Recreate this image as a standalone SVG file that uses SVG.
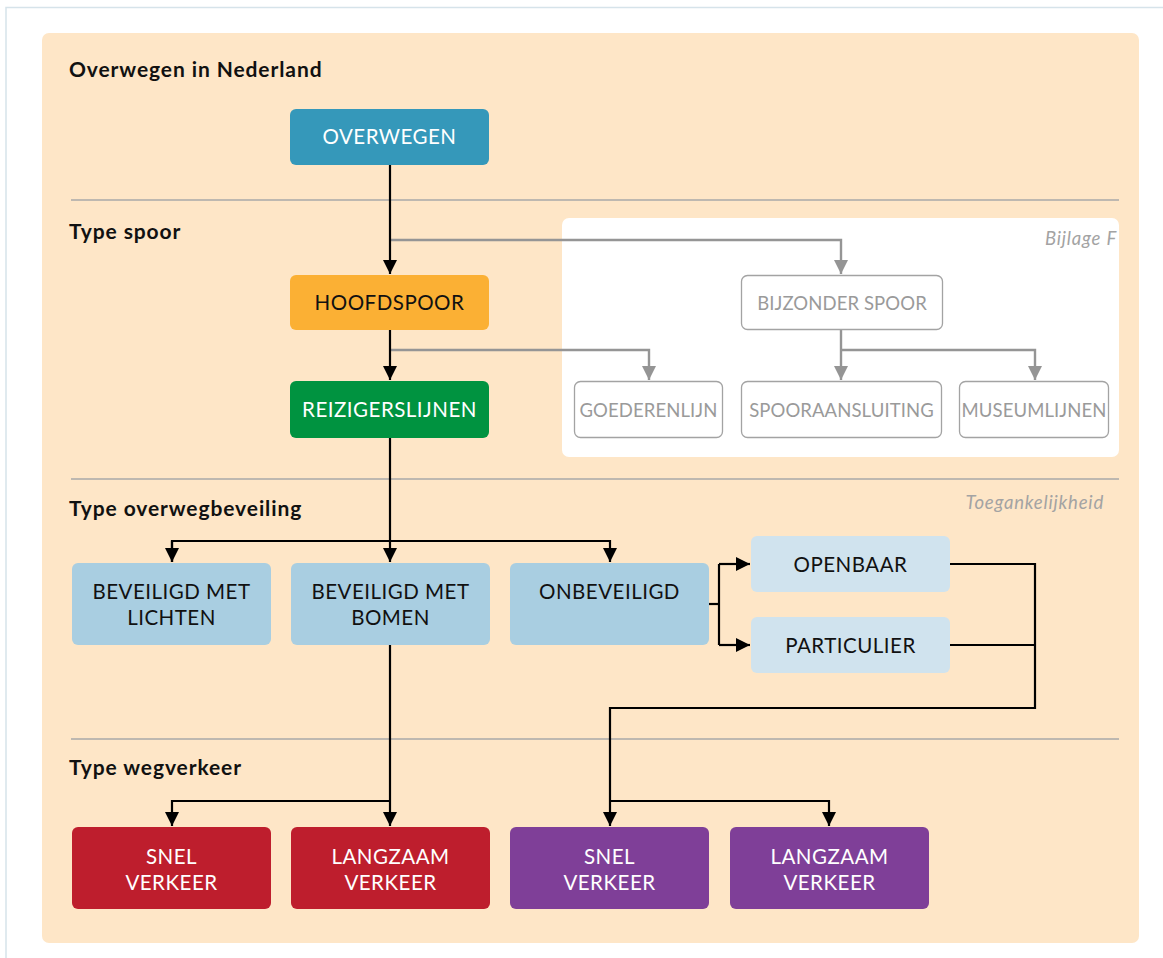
<svg xmlns="http://www.w3.org/2000/svg" width="1163" height="958" viewBox="0 0 1163 958">
<defs>
<style>
.hdr{font-family:Lato,"Noto Sans",sans-serif;font-weight:bold;font-size:21px;letter-spacing:0.9px;fill:#111}
.note{font-family:Lato,"Noto Sans",sans-serif;font-style:italic;font-size:18.5px;letter-spacing:0.8px;fill:#a3a3a3}
.t{font-family:Lato,"Noto Sans",sans-serif;font-size:20.5px;letter-spacing:0.5px;text-anchor:middle}
.w{fill:#fff}
.k{fill:#111}
.g{fill:#9a9a9a;font-size:18.5px;letter-spacing:0.1px}
.sep{stroke:#a8a8a8;stroke-width:1.5;fill:none}
.blk{stroke:#000;stroke-width:2.2;fill:none}
.gry{stroke:#959595;stroke-width:2.4;fill:none}
.gbox{fill:#fff;stroke:#a3a3a3;stroke-width:1.3}
</style>
<marker id="ab" markerUnits="userSpaceOnUse" markerWidth="16" markerHeight="14" refX="14" refY="7" orient="auto">
<path d="M0,0 L14,7 L0,14 Z" fill="#000"/>
</marker>
<marker id="ag" markerUnits="userSpaceOnUse" markerWidth="16" markerHeight="14" refX="14" refY="7" orient="auto">
<path d="M0,0 L14,7 L0,14 Z" fill="#959595"/>
</marker>
</defs>
<rect x="0" y="0" width="1163" height="958" fill="#fff"/>
<rect x="6" y="7.5" width="1170" height="960" fill="#fff" stroke="#d6e3ea" stroke-width="1.5"/>
<rect x="42" y="33" width="1097" height="910" rx="7" fill="#fee6c7"/>
<rect x="562" y="218" width="557" height="239" rx="7" fill="#fff"/>

<g id="separators">
<line class="sep" x1="71" y1="200" x2="1119" y2="200"/>
<line class="sep" x1="71" y1="479" x2="1119" y2="479"/>
<line class="sep" x1="71" y1="739" x2="1119" y2="739"/>
</g>

<g id="labels">
<text class="hdr" x="69" y="77">Overwegen in Nederland</text>
<text class="hdr" x="69" y="239">Type spoor</text>
<text class="hdr" x="69" y="516">Type overwegbeveiling</text>
<text class="hdr" x="69" y="775">Type wegverkeer</text>
<text class="note" x="1117" y="245" text-anchor="end">Bijlage F</text>
<text class="note" x="1104" y="509" text-anchor="end">Toegankelijkheid</text>
</g>

<g id="connectors">
<path class="gry" d="M390,240 H841 V274" marker-end="url(#ag)"/>
<path class="gry" d="M390,350 H649 V380" marker-end="url(#ag)"/>
<path class="gry" d="M841,330 V380" marker-end="url(#ag)"/>
<path class="gry" d="M841,350 H1035 V380" marker-end="url(#ag)"/>
<path class="blk" d="M390,165 V274" marker-end="url(#ab)"/>
<path class="blk" d="M390,330 V380" marker-end="url(#ab)"/>
<path class="blk" d="M390,438 V562" marker-end="url(#ab)"/>
<path class="blk" d="M172,562 V541 H610 V562" marker-end="url(#ab)"/>
<path class="blk" d="M172,541 V562" marker-end="url(#ab)"/>
<path class="blk" d="M709,604 H719"/>
<path class="blk" d="M719,564 V645"/>
<path class="blk" d="M719,564 H750" marker-end="url(#ab)"/>
<path class="blk" d="M719,645 H750" marker-end="url(#ab)"/>
<path class="blk" d="M950,564 H1035 V708 H610 V826" marker-end="url(#ab)"/>
<path class="blk" d="M950,645 H1035"/>
<path class="blk" d="M610,801 H829 V826" marker-end="url(#ab)"/>
<path class="blk" d="M390,645 V826" marker-end="url(#ab)"/>
<path class="blk" d="M390,801 H172 V826" marker-end="url(#ab)"/>
</g>

<g id="overwegen"><rect x="290" y="109" width="199" height="56" rx="6" fill="#3598ba"/><text class="t w" x="389.5" y="144">OVERWEGEN</text></g>
<g id="hoofdspoor"><rect x="290" y="275" width="199" height="55" rx="6" fill="#fbb034"/><text class="t k" x="389.5" y="310">HOOFDSPOOR</text></g>
<g id="reizigerslijnen"><rect x="290" y="381" width="199" height="57" rx="6" fill="#009340"/><text class="t w" x="389.5" y="417">REIZIGERSLIJNEN</text></g>
<g id="bijzonder"><rect class="gbox" x="741.5" y="275.5" width="201" height="54" rx="6"/><text class="t g" x="842" y="310">BIJZONDER SPOOR</text></g>
<g id="goederenlijn"><rect class="gbox" x="574.5" y="381.5" width="148" height="56" rx="6"/><text class="t g" x="648.5" y="417">GOEDERENLIJN</text></g>
<g id="spooraansluiting"><rect class="gbox" x="741.5" y="381.5" width="200" height="56" rx="6"/><text class="t g" x="841.5" y="417">SPOORAANSLUITING</text></g>
<g id="museumlijnen"><rect class="gbox" x="959.5" y="381.5" width="149" height="56" rx="6"/><text class="t g" x="1034" y="417">MUSEUMLIJNEN</text></g>

<g id="lichten"><rect x="72" y="563" width="199" height="82" rx="6" fill="#a9cee1"/><text class="t k" x="171.5" y="599">BEVEILIGD MET</text><text class="t k" x="171.5" y="625">LICHTEN</text></g>
<g id="bomen"><rect x="291" y="563" width="199" height="82" rx="6" fill="#a9cee1"/><text class="t k" x="390.5" y="599">BEVEILIGD MET</text><text class="t k" x="390.5" y="625">BOMEN</text></g>
<g id="onbeveiligd"><rect x="510" y="563" width="199" height="82" rx="6" fill="#a9cee1"/><text class="t k" x="609.5" y="599">ONBEVEILIGD</text></g>
<g id="openbaar"><rect x="751" y="536" width="199" height="56" rx="6" fill="#d0e3ee"/><text class="t k" x="850.5" y="572">OPENBAAR</text></g>
<g id="particulier"><rect x="751" y="617" width="199" height="56" rx="6" fill="#d0e3ee"/><text class="t k" x="850.5" y="653">PARTICULIER</text></g>

<g id="snel1"><rect x="72" y="827" width="199" height="82" rx="6" fill="#be1e2d"/><text class="t w" x="171.5" y="864">SNEL</text><text class="t w" x="171.5" y="890">VERKEER</text></g>
<g id="langzaam1"><rect x="291" y="827" width="199" height="82" rx="6" fill="#be1e2d"/><text class="t w" x="390.5" y="864">LANGZAAM</text><text class="t w" x="390.5" y="890">VERKEER</text></g>
<g id="snel2"><rect x="510" y="827" width="199" height="82" rx="6" fill="#7f3f98"/><text class="t w" x="609.5" y="864">SNEL</text><text class="t w" x="609.5" y="890">VERKEER</text></g>
<g id="langzaam2"><rect x="730" y="827" width="199" height="82" rx="6" fill="#7f3f98"/><text class="t w" x="829.5" y="864">LANGZAAM</text><text class="t w" x="829.5" y="890">VERKEER</text></g>
</svg>
